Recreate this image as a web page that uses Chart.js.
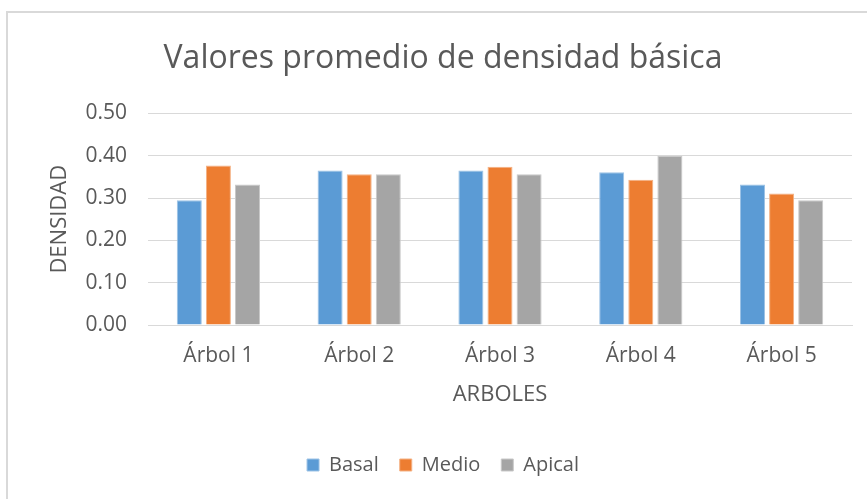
<!DOCTYPE html>
<html>
<head>
<meta charset="utf-8">
<script src="https://cdn.jsdelivr.net/npm/chart.js@4/dist/chart.umd.min.js"></script>
<style>
  html, body { margin: 0; padding: 0; background: #fff; }
  #wrap { position: relative; width: 867px; height: 499px; }
  #frame {
    position: absolute; left: 6px; top: 11px; width: 900px; height: 600px;
    border-top: 2px solid #d9d9d9; border-left: 2px solid #d9d9d9;
    pointer-events: none;
  }
</style>
</head>
<body>
<div id="wrap">
  <canvas id="densityChart" width="867" height="499"></canvas>
  <div id="frame"></div>
</div>
<script>
// Chart data
const categories = ["Árbol 1", "Árbol 2", "Árbol 3", "Árbol 4", "Árbol 5"];
const basal = [0.295, 0.365, 0.365, 0.361, 0.332];
const medio = [0.377, 0.356, 0.374, 0.343, 0.311];
const apical = [0.332, 0.356, 0.356, 0.400, 0.295];
const yTicks = [0, 0.1, 0.2, 0.3, 0.4, 0.5];

const textColor = "#595959";
const fontFamily = "'Open Sans', 'Noto Sans', sans-serif";

const makeDataset = (label, data, color, edge) => ({
  label,
  data,
  backgroundColor: color,
  borderColor: edge,
  borderWidth: 1,
  barPercentage: 0.86,
  categoryPercentage: 0.62,
});

const ctx = document.getElementById("densityChart").getContext("2d");
new Chart(ctx, {
  type: "bar",
  data: {
    labels: categories,
    datasets: [
      makeDataset("Basal", basal, "#5b9bd5", "#9dc3e6"),
      makeDataset("Medio", medio, "#ed7d31", "#f4b183"),
      makeDataset("Apical", apical, "#a5a5a5", "#c9c9c9"),
    ],
  },
  options: {
    responsive: false,
    animation: false,
    layout: { padding: { left: 34, right: 15, top: 0, bottom: 14 } },
    plugins: {
      title: {
        display: true,
        text: "Valores promedio de densidad básica",
        color: textColor,
        font: { family: fontFamily, size: 32, weight: "normal" },
        padding: { top: 40, bottom: 35 },
      },
      legend: {
        position: "bottom",
        labels: {
          color: textColor,
          font: { family: fontFamily, size: 20 },
          boxWidth: 12,
          boxHeight: 12,
          padding: 21,
        },
      },
      tooltip: { enabled: false },
    },
    scales: {
      x: {
        grid: { display: false, drawTicks: false },
        border: { color: "#d9d9d9", width: 1 },
        ticks: {
          color: textColor,
          font: { family: fontFamily, size: 21 },
          padding: 18,
        },
        title: {
          display: true,
          text: "ARBOLES",
          color: textColor,
          font: { family: fontFamily, size: 22 },
          padding: { top: 0, bottom: 26 },
        },
        afterFit: (scale) => {
          scale.height = 109;
        },
      },
      y: {
        min: 0,
        max: 0.5,
        afterBuildTicks: (scale) => {
          scale.ticks = yTicks.map((v) => ({ value: v }));
        },
        grid: { color: "#d9d9d9", drawTicks: false },
        border: { display: false },
        ticks: {
          color: textColor,
          font: { family: fontFamily, size: 21 },
          padding: 21,
          callback: (value) => value.toFixed(2),
        },
        title: {
          display: true,
          text: "DENSIDAD",
          color: textColor,
          font: { family: fontFamily, size: 22 },
          padding: { top: 13, bottom: 0 },
        },
        afterFit: (scale) => {
          scale.width = 114;
        },
      },
    },
  },
});
</script>
</body>
</html>
